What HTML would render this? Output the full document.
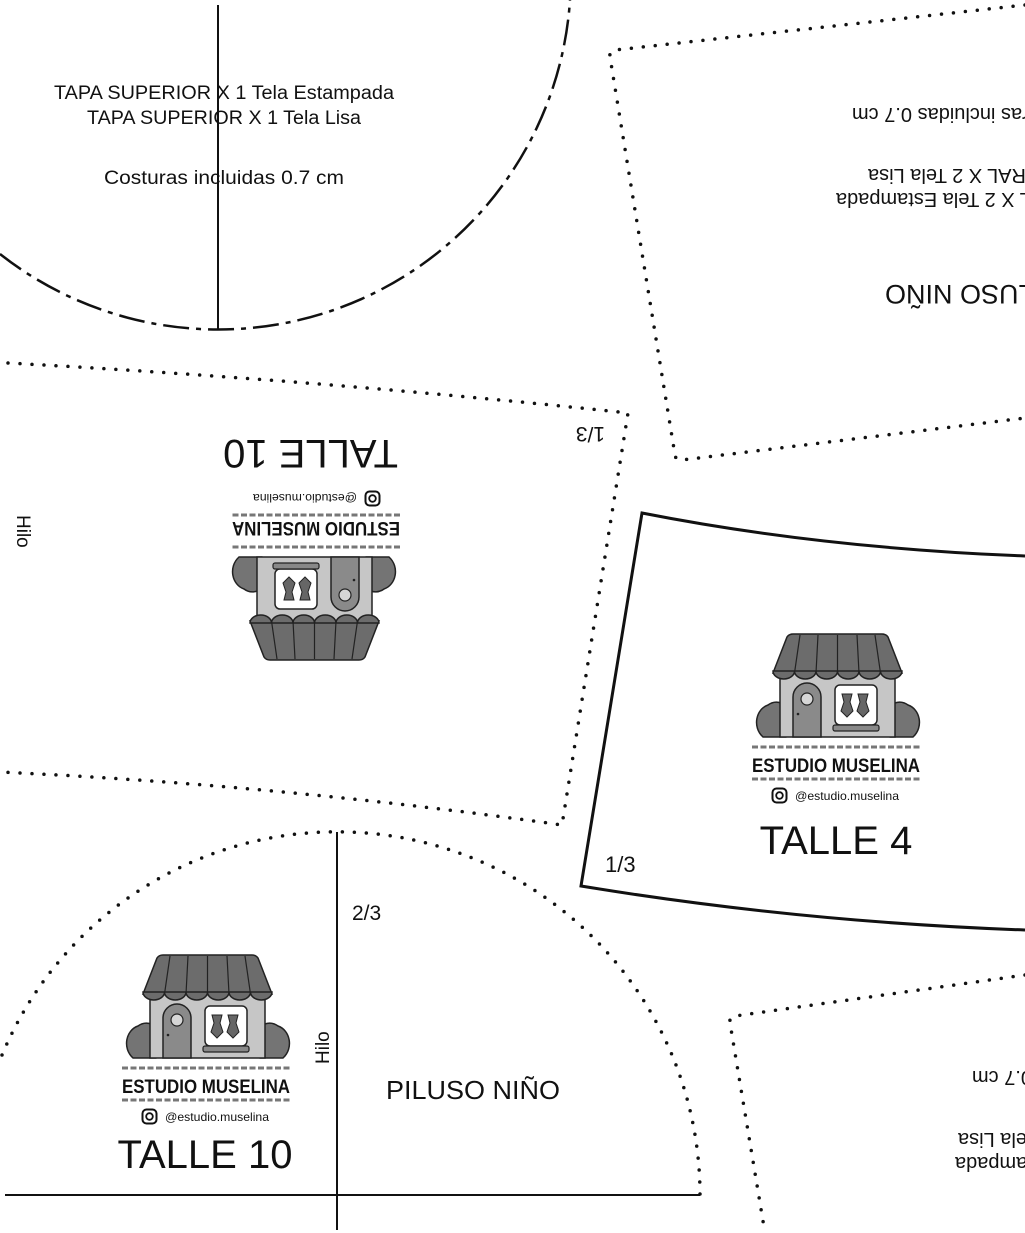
<!DOCTYPE html>
<html><head><meta charset="utf-8"><style>
html,body{margin:0;padding:0;background:#fff}
svg{display:block}
text{font-family:"Liberation Sans",sans-serif;fill:#111}
</style></head><body>
<svg width="1025" height="1233" viewBox="0 0 1025 1233" xmlns="http://www.w3.org/2000/svg">
<defs>
<g id="logo">
  <!-- bushes -->
  <path d="M133,1058 C122,1048 126,1030 138,1026 C146,1020 158,1024 160,1034 C162,1044 160,1052 156,1058 Z" fill="#747474" stroke="#222" stroke-width="1.5"/>
  <path d="M283,1058 C294,1048 290,1030 278,1026 C270,1020 258,1024 256,1034 C254,1044 256,1052 260,1058 Z" fill="#747474" stroke="#222" stroke-width="1.5"/>
  <!-- body -->
  <rect x="150" y="993" width="115" height="65" fill="#c6c6c6" stroke="#222" stroke-width="1.5"/>
  <!-- door -->
  <path d="M163,1058 V1018 A14,14 0 0 1 191,1018 V1058 Z" fill="#8a8a8a" stroke="#222" stroke-width="1.5"/>
  <circle cx="177" cy="1020" r="6" fill="#d6d6d6" stroke="#222" stroke-width="1.2"/>
  <circle cx="168" cy="1035" r="1.3" fill="#222"/>
  <!-- window -->
  <rect x="205" y="1006" width="42" height="40" rx="5" fill="#fff" stroke="#222" stroke-width="1.5"/>
  <path d="M212,1015 h10 l-2,8 l3,9 l-6,6 l-6,-6 l3,-9 z" fill="#666" stroke="#222"/>
  <path d="M228,1015 h10 l-2,8 l3,9 l-6,6 l-6,-6 l3,-9 z" fill="#666" stroke="#222"/>
  <rect x="203" y="1046" width="46" height="6" rx="2" fill="#888" stroke="#222" stroke-width="1.2"/>
  <!-- awning -->
  <path d="M143,994 L157,958 Q159,955 163,955 L252,955 Q256,955 258,958 L272,994 Z" fill="#6c6c6c" stroke="#222" stroke-width="1.5"/>
  <path d="M164.5,994 L170,956 M186,994 L188,956 M207.5,994 L207.5,956 M229,994 L227,956 M250.5,994 L245,956" stroke="#222" stroke-width="1.2"/>
  <path d="M143,992 a10.75,8 0 0 0 21.5,0 a10.75,8 0 0 0 21.5,0 a10.75,8 0 0 0 21.5,0 a10.75,8 0 0 0 21.5,0 a10.75,8 0 0 0 21.5,0 a10.75,8 0 0 0 21.5,0 Z" fill="#6c6c6c" stroke="#222" stroke-width="1.5"/>
  <!-- dashes -->
  <line x1="122" y1="1068" x2="290" y2="1068" stroke="#777" stroke-width="3" stroke-dasharray="6,2.5"/>
  <text x="206" y="1093" text-anchor="middle" font-size="19" font-weight="bold" textLength="168" lengthAdjust="spacingAndGlyphs">ESTUDIO MUSELINA</text>
  <line x1="122" y1="1100" x2="290" y2="1100" stroke="#777" stroke-width="3" stroke-dasharray="6,2.5"/>
  <rect x="142.5" y="1109.5" width="14" height="14" rx="4" fill="none" stroke="#111" stroke-width="2"/>
  <circle cx="149.5" cy="1116.5" r="3.3" fill="none" stroke="#111" stroke-width="1.8"/>
  <text x="165" y="1121" font-size="12" textLength="104" lengthAdjust="spacingAndGlyphs">@estudio.muselina</text>
</g>
</defs>

<!-- top-left circle -->
<path d="M0,254 A352.7,352.7 0 0 0 570,0" fill="none" stroke="#111" stroke-width="2.5" stroke-dasharray="26,7,5,7"/>
<line x1="218" y1="5" x2="218" y2="330" stroke="#111" stroke-width="2"/>
<text x="224" y="99" text-anchor="middle" font-size="19" textLength="340" lengthAdjust="spacingAndGlyphs">TAPA SUPERIOR X 1 Tela Estampada</text>
<text x="224" y="124" text-anchor="middle" font-size="19" textLength="274" lengthAdjust="spacingAndGlyphs">TAPA SUPERIOR X 1 Tela Lisa</text>
<text x="224" y="184" text-anchor="middle" font-size="19" textLength="240" lengthAdjust="spacingAndGlyphs">Costuras incluidas 0.7 cm</text>

<!-- top-right dotted -->
<path d="M1025,5 L615,50 Q609,51 610,57 L675,455 Q676,461 682,460 L1025,418" fill="none" stroke="#111" stroke-width="3.5" stroke-dasharray="0,12" stroke-linecap="round"/>
<text transform="translate(852,108) rotate(180)" text-anchor="end" font-size="20">Costuras incluidas 0.7 cm</text>
<text transform="translate(868,169) rotate(180)" text-anchor="end" font-size="20">TAPA LATERAL X 2 Tela Lisa</text>
<text transform="translate(836,193) rotate(180)" text-anchor="end" font-size="20">TAPA LATERAL X 2 Tela Estampada</text>
<text transform="translate(885,285) rotate(180)" text-anchor="end" font-size="27">PILUSO NIÑO</text>

<!-- middle-left dotted -->
<path d="M8,363 Q320,380 628,413 L562,825 Q280,785 0,772" fill="none" stroke="#111" stroke-width="3.5" stroke-dasharray="0,12" stroke-linecap="round"/>
<text transform="translate(605,427) rotate(180)" font-size="21">1/3</text>
<text transform="translate(398,440) rotate(180)" font-size="40">TALLE 10</text>
<text transform="translate(17,515) rotate(90)" font-size="19">Hilo</text>
<use href="#logo" transform="rotate(180 261 807.5)"/>

<!-- TALLE 4 solid -->
<path d="M1025,556 Q820,548 642,513 L581,886 Q800,922 1025,930" fill="none" stroke="#111" stroke-width="3"/>
<use href="#logo" transform="translate(630,-321)"/>
<text x="836" y="854" text-anchor="middle" font-size="40">TALLE 4</text>
<text x="605" y="872" font-size="22">1/3</text>

<!-- bottom-left arc -->
<path d="M2,1055 A363,363 0 0 1 700,1195" fill="none" stroke="#111" stroke-width="3.5" stroke-dasharray="0,12" stroke-linecap="round"/>
<line x1="337" y1="832" x2="337" y2="1230" stroke="#111" stroke-width="2"/>
<line x1="5" y1="1195" x2="700" y2="1195" stroke="#111" stroke-width="2"/>
<text x="352" y="920" font-size="21">2/3</text>
<text transform="translate(329,1064) rotate(-90)" font-size="19">Hilo</text>
<text x="473" y="1099" text-anchor="middle" font-size="26" textLength="174" lengthAdjust="spacingAndGlyphs">PILUSO NIÑO</text>
<use href="#logo"/>
<text x="205" y="1168" text-anchor="middle" font-size="40">TALLE 10</text>

<!-- bottom-right dotted -->
<path d="M1025,975 L735,1016 Q729,1017 730,1023 L765,1233" fill="none" stroke="#111" stroke-width="3.5" stroke-dasharray="0,12" stroke-linecap="round"/>
<text transform="translate(972,1071) rotate(180)" text-anchor="end" font-size="20">Costuras incluidas 0.7 cm</text>
<text transform="translate(958,1133) rotate(180)" text-anchor="end" font-size="20">TAPA LATERAL X 2 Tela Lisa</text>
<text transform="translate(955,1157) rotate(180)" text-anchor="end" font-size="20">TAPA LATERAL X 2 Tela Estampada</text>
</svg>
</body></html>
